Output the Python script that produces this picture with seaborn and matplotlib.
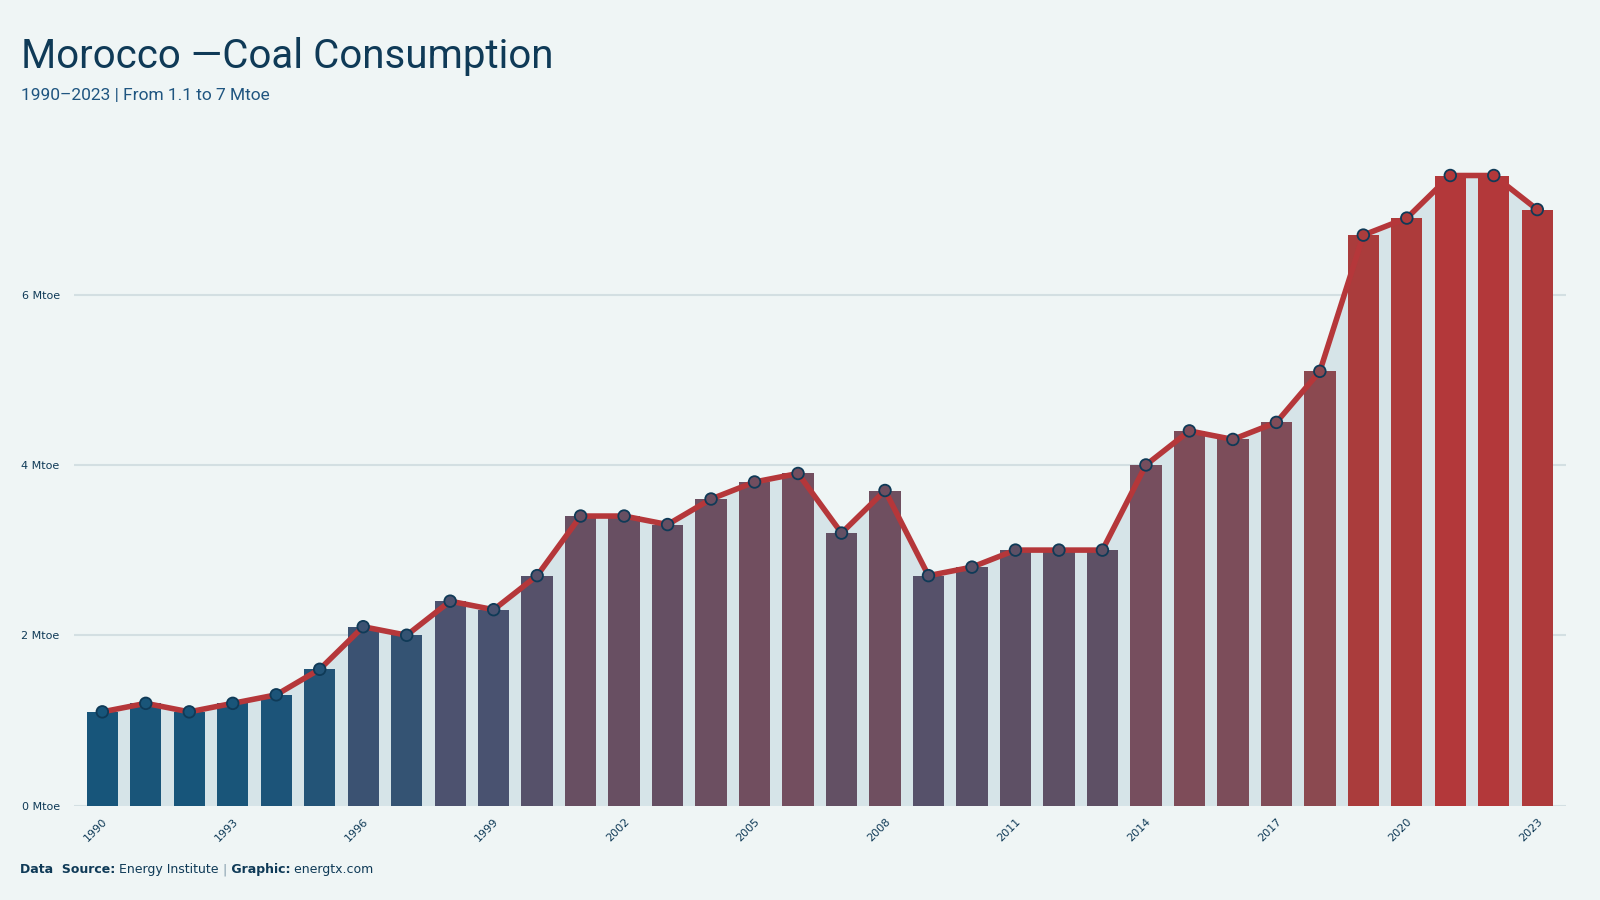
import matplotlib
matplotlib.use("Agg")
import matplotlib.pyplot as plt
from matplotlib.colors import LinearSegmentedColormap, Normalize
import seaborn as sns
import numpy as np

# Morocco coal consumption, Mtoe
years = list(range(1990, 2024))
values = [1.1, 1.2, 1.1, 1.2, 1.3, 1.6, 2.1, 2.0, 2.4, 2.3,
          2.7, 3.4, 3.4, 3.3, 3.6, 3.8, 3.9, 3.2, 3.7, 2.7,
          2.8, 3.0, 3.0, 3.0, 4.0, 4.4, 4.3, 4.5, 5.1, 6.7,
          6.9, 7.4, 7.4, 7.0]
tick_years = [1990, 1993, 1996, 1999, 2002, 2005, 2008, 2011, 2014, 2017, 2020, 2023]
y_ticks = [0, 2, 4, 6]

bg = "#eff5f5"
navy = "#0f3a57"
line_red = "#b5373a"

sns.set_theme(style="white")
plt.rcParams["font.family"] = ["Roboto", "DejaVu Sans"]

# blue -> red gradient by value
cmap = LinearSegmentedColormap.from_list(
    "coal",
    [(0.0, "#17557a"), (0.12, "#2a5375"), (0.19, "#4a5270"), (0.30, "#5e5065"),
     (0.46, "#764e5e"), (0.64, "#8c4950"), (0.89, "#aa3c3c"), (1.0, "#b3383a")])
norm = Normalize(min(values), max(values))
colors = [cmap(norm(v)) for v in values]

fig = plt.figure(figsize=(16, 9), dpi=100, facecolor=bg)
ax = fig.add_axes([0.046, 0.105, 0.933, 0.77])
ax.set_facecolor(bg)

pos = np.arange(len(years))
ax.fill_between(pos, values, color="#d6e4e8", zorder=1, lw=0)
sns.barplot(x=pos, y=values, hue=pos, palette=colors, legend=False,
            width=0.72, saturation=1, ax=ax, zorder=2, native_scale=True)
for p in ax.patches:
    p.set_edgecolor("none")
    p.set_linewidth(0)
sns.lineplot(x=pos, y=values, color=line_red, lw=4, ax=ax, zorder=3)
ax.scatter(pos, values, s=70, c=colors, edgecolors=navy, linewidths=1.3, zorder=4)

ax.set_xlim(-0.66, len(years) - 1 + 0.67)
ax.set_ylim(0, max(values) * 1.1)
ax.set_yticks(y_ticks)
ax.set_yticklabels([f"{t} Mtoe" for t in y_ticks], fontsize=8, color=navy,
                   family=["DejaVu Sans"])
ax.yaxis.grid(True, color="#d3dfe2", lw=1.5, zorder=0)
ax.set_axisbelow(True)
ax.tick_params(axis="y", length=0, pad=10)

ax.set_xticks([years.index(y) for y in tick_years])
ax.set_xticklabels([str(y) for y in tick_years], rotation=45, ha="right",
                   rotation_mode="anchor", fontsize=8, color=navy,
                   family=["DejaVu Sans"])
ax.tick_params(axis="x", length=0, pad=8)
ax.set_xlabel("")
ax.set_ylabel("")
for s in ax.spines.values():
    s.set_visible(False)

fig.text(0.013, 0.925, "Morocco \u2014Coal Consumption", fontsize=29, color=navy)
fig.text(0.013, 0.889, "1990\u20132023 | From 1.1 to 7 Mtoe", fontsize=12.5, color="#1f5580")

# footer, pieces laid out one after another
footer = [("Data  Source:", "bold", navy), (" Energy Institute ", "normal", navy),
          ("|", "normal", "#7f98a8"), (" Graphic:", "bold", navy),
          (" energtx.com", "normal", navy)]
renderer = fig.canvas.get_renderer()
x = 20
for txt, w, c in footer:
    t = fig.text(x / 1600, 0.03, txt, fontsize=9, weight=w, color=c,
                 family=["DejaVu Sans"])
    x += t.get_window_extent(renderer).width

fig.savefig("out.png", dpi=100, facecolor=bg)
